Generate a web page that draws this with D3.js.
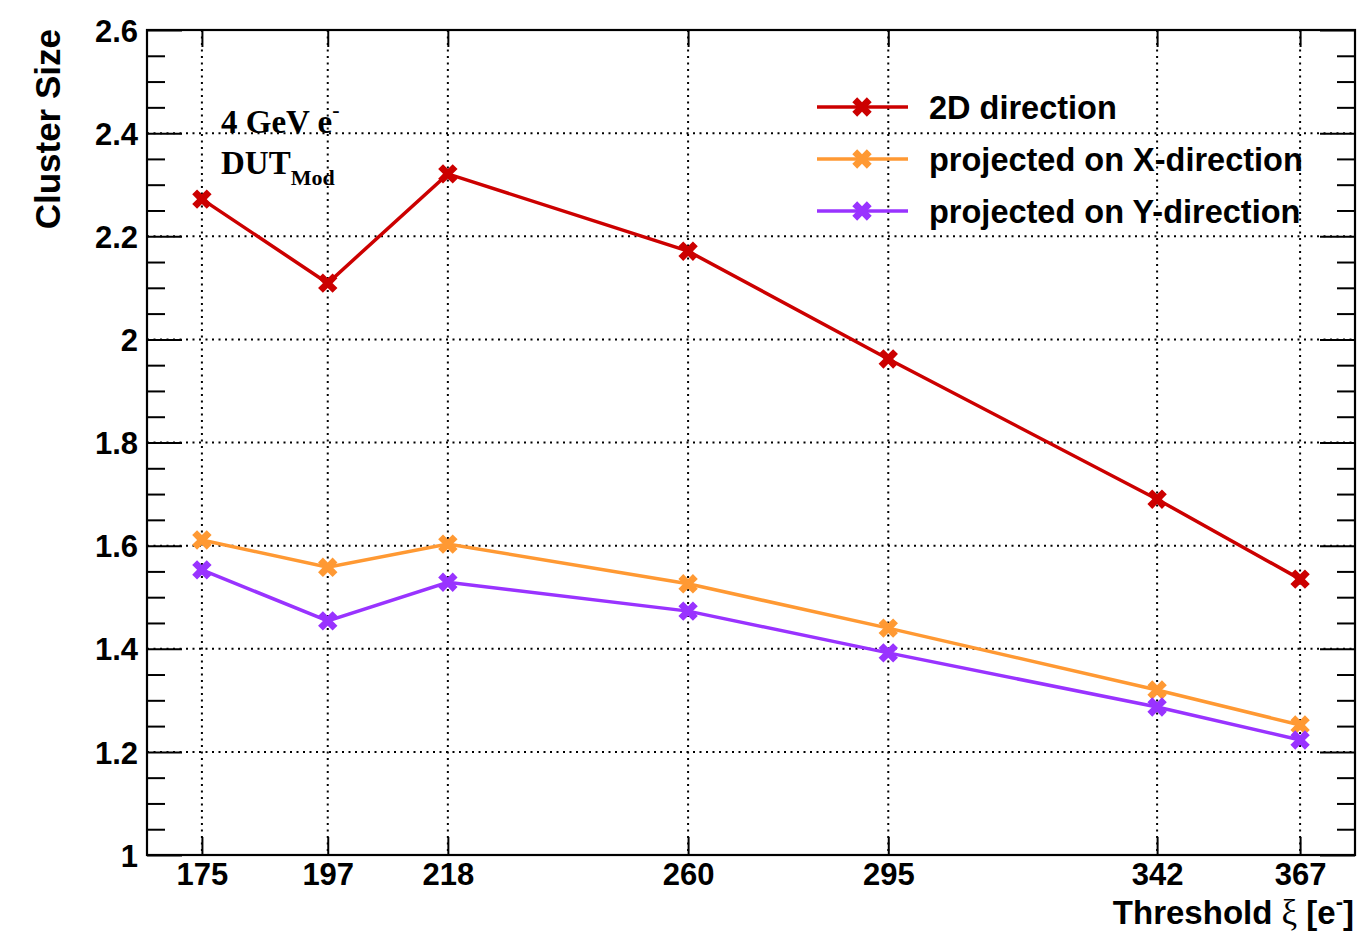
<!DOCTYPE html>
<html>
<head>
<meta charset="utf-8">
<script src="https://cdn.jsdelivr.net/npm/d3@7"></script>
<style>
  html, body { margin: 0; padding: 0; background: #fff; }
  svg { display: block; }
</style>
</head>
<body>
<svg id="chart" width="1357" height="935"></svg>
<script>
// ---- data ----
const thresholds = [175, 197, 218, 260, 295, 342, 367];
const cs2D = [2.272, 2.109, 2.321, 2.171, 1.962, 1.690, 1.535];
const csX  = [1.611, 1.558, 1.603, 1.526, 1.440, 1.320, 1.252];
const csY  = [1.553, 1.454, 1.529, 1.473, 1.392, 1.287, 1.223];
const seriesNames = ["2D direction", "projected on X-direction", "projected on Y-direction"];
const seriesColors = ["#cc0000", "#ff9933", "#9933ff"];
const yMajorTicks = [1, 1.2, 1.4, 1.6, 1.8, 2, 2.2, 2.4, 2.6];
const yMinorTicks = d3.range(1, 2.6001, 0.05).filter(v => Math.abs(v / 0.2 - Math.round(v / 0.2)) > 1e-6);

const W = 1357, H = 935;
const margin = {left: 147, right: 2, top: 30, bottom: 80};
const iw = W - margin.left - margin.right, ih = H - margin.top - margin.bottom;

const svg = d3.select("#chart");
const g = svg.append("g").attr("transform", `translate(${margin.left},${margin.top})`);

const pad = (thresholds[thresholds.length - 1] - thresholds[0]) * 0.05;
const x = d3.scaleLinear().domain([thresholds[0] - pad, thresholds[thresholds.length - 1] + pad]).range([0, iw]);
const y = d3.scaleLinear().domain([1, 2.6]).range([ih, 0]);

const FONT = "'Liberation Sans', Arial, Helvetica, sans-serif";
const SERIF = "'Liberation Serif', 'Times New Roman', serif";

// grid
const grid = g.append("g").attr("stroke", "#000").attr("stroke-width", 2).attr("stroke-dasharray", "2,4.5");
grid.selectAll("line.gx").data(thresholds).join("line")
  .attr("x1", d => x(d)).attr("x2", d => x(d)).attr("y1", 0).attr("y2", ih);
grid.selectAll("line.gy").data(yMajorTicks.filter(v => v > 1 && v < 2.6)).join("line")
  .attr("x1", 0).attr("x2", iw).attr("y1", d => y(d)).attr("y2", d => y(d));

// axes
function styleAxis(sel) {
  sel.select(".domain").remove();
  sel.selectAll(".tick line").attr("stroke", "#000").attr("stroke-width", 2);
  sel.selectAll("text").attr("font-family", FONT).attr("font-weight", "bold").attr("font-size", 31).attr("fill", "#000");
}
g.append("g").call(d3.axisLeft(y).tickValues(yMajorTicks).tickSize(-35).tickPadding(9).tickFormat(d3.format("~g")))
  .call(styleAxis).selectAll("text").attr("dy", "0.36em");
g.append("g").call(d3.axisLeft(y).tickValues(yMinorTicks).tickSize(-18).tickFormat("")).call(styleAxis);
g.append("g").attr("transform", `translate(${iw},0)`)
  .call(d3.axisRight(y).tickValues(yMajorTicks).tickSize(-35).tickFormat("")).call(styleAxis);
g.append("g").attr("transform", `translate(${iw},0)`)
  .call(d3.axisRight(y).tickValues(yMinorTicks).tickSize(-18).tickFormat("")).call(styleAxis);
g.append("g").attr("transform", `translate(0,${ih})`)
  .call(d3.axisBottom(x).tickValues(thresholds).tickSize(-18).tickPadding(8).tickFormat(d3.format("d")))
  .call(styleAxis).selectAll("text").attr("font-size", 31);
g.append("g")
  .call(d3.axisTop(x).tickValues(thresholds).tickSize(-17).tickFormat("")).call(styleAxis);

// frame
g.append("rect").attr("x", 0).attr("y", 0).attr("width", iw).attr("height", ih)
  .attr("fill", "none").attr("stroke", "#000").attr("stroke-width", 2.2);

// series
const series = [cs2D, csX, csY];
const line = d3.line().x(d => x(d[0])).y(d => y(d[1]));
const marker = d3.symbol(d3.symbolCross, 235);
series.forEach((vals, i) => {
  const pts = thresholds.map((t, j) => [t, vals[j]]);
  g.append("path").datum(pts).attr("d", line).attr("fill", "none")
    .attr("stroke", seriesColors[i]).attr("stroke-width", 3.5);
  g.selectAll(null).data(pts).join("path")
    .attr("d", marker)
    .attr("transform", d => `translate(${x(d[0])},${y(d[1])}) rotate(45)`)
    .attr("fill", seriesColors[i]);
});

// legend
const leg = svg.append("g");
seriesNames.forEach((name, i) => {
  const ly = 107 + i * 52;
  leg.append("line").attr("x1", 817).attr("x2", 908).attr("y1", ly).attr("y2", ly)
    .attr("stroke", seriesColors[i]).attr("stroke-width", 3.5);
  leg.append("path").attr("d", marker).attr("transform", `translate(862,${ly}) rotate(45)`).attr("fill", seriesColors[i]);
  leg.append("text").attr("x", 929).attr("y", ly).attr("dy", "0.36em")
    .attr("font-family", FONT).attr("font-weight", "bold").attr("font-size", 32.5).text(name);
});

// annotation
const ann = svg.append("g").attr("font-family", SERIF).attr("font-weight", "bold").attr("fill", "#000");
const t1 = ann.append("text").attr("x", 221).attr("y", 133).attr("font-size", 33);
t1.append("tspan").text("4 GeV e");
t1.append("tspan").attr("dy", -16).attr("font-size", 22).text("-");
const t2 = ann.append("text").attr("x", 221).attr("y", 174).attr("font-size", 33);
t2.append("tspan").text("DUT");
t2.append("tspan").attr("dy", 11).attr("font-size", 22).text("Mod");

// axis titles
svg.append("text").attr("transform", "translate(60,29) rotate(-90)")
  .attr("text-anchor", "end").attr("font-family", FONT).attr("font-weight", "bold")
  .attr("font-size", 35).text("Cluster Size");

const xt = svg.append("text").attr("x", 1354).attr("y", 924).attr("text-anchor", "end")
  .attr("font-family", FONT).attr("font-weight", "bold").attr("font-size", 33);
xt.append("tspan").text("Threshold ");
xt.append("tspan").attr("font-family", SERIF).attr("font-weight", "normal").attr("font-size", 35).text("ξ");
xt.append("tspan").text(" [e");
xt.append("tspan").attr("dy", -15).attr("font-size", 22).text("-");
xt.append("tspan").attr("dy", 15).text("]");
</script>
</body>
</html>
